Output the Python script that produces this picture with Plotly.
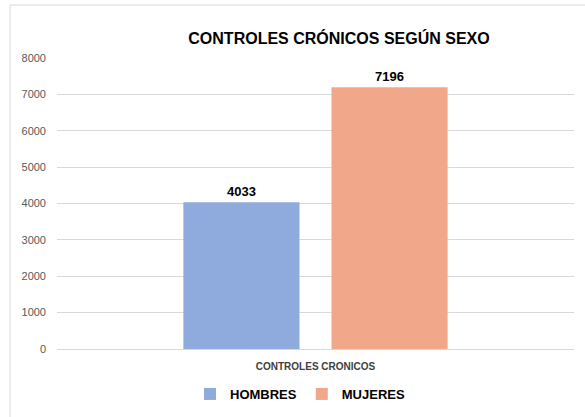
import plotly.graph_objects as go

categories = ["CONTROLES CRONICOS"]
series_names = ["HOMBRES", "MUJERES"]
hombres = [4033]
mujeres = [7196]
y_ticks = [0, 1000, 2000, 3000, 4000, 5000, 6000, 7000, 8000]

colors = {"HOMBRES": "#8FAADC", "MUJERES": "#F1A88A"}
values = {"HOMBRES": hombres, "MUJERES": mujeres}

fig = go.Figure()
for name in series_names:
    fig.add_trace(go.Bar(
        x=categories, y=values[name], name="<b>" + name + "</b>",
        marker=dict(color=colors[name], line=dict(width=0)),
        text=[str(v) for v in values[name]], textposition="outside",
        textfont=dict(family="Liberation Sans", size=13, color="#000000"),
        texttemplate="<b>%{text}</b>", cliponaxis=False,
    ))

W, H = 585, 417
ml, mr, mt, mb = 57, 11, 58, 68
pw, ph = W - ml - mr, H - mt - mb

def px_to_paper(px, py):
    return (px - ml) / pw, (H - mb - py) / ph

x0, y0 = px_to_paper(10, 5)
x1, y1 = px_to_paper(600, 430)

fig.update_layout(
    width=W, height=H,
    margin=dict(l=ml, r=mr, t=mt, b=mb, autoexpand=False),
    paper_bgcolor="white", plot_bgcolor="white",
    barmode="group", bargap=0.427, bargroupgap=0.216,
    title=dict(text="<b>CONTROLES CRÓNICOS SEGÚN SEXO</b>", x=339 / W,
               xanchor="center", xref="container", y=1 - 38 / H, yanchor="middle", yref="container",
               font=dict(family="Liberation Sans", size=16, color="#000000")),
    font=dict(family="Liberation Sans"),
    showlegend=True,
    legend=dict(orientation="h", x=300 / W, xanchor="center", xref="container",
                y=1 - 394 / H, yref="container",
                yanchor="middle", font=dict(size=13, color="#000000"),
                itemwidth=30, traceorder="normal"),
    yaxis=dict(range=[0, 8000], tickvals=y_ticks, showgrid=True, gridcolor="#D9D9D9",
               gridwidth=1, zeroline=False, showline=False, automargin=False,
               tickfont=dict(size=11, color="#595959"), ticks="", ticklen=0,
               ticklabelstandoff=10),
    xaxis=dict(showline=True, linecolor="#D9D9D9", linewidth=1, ticks="", automargin=False,
               tickfont=dict(size=10, color="#404040"), tickprefix="<b>", ticksuffix="</b>",
               ticklabelstandoff=8),
    shapes=[
        dict(type="line", xref="paper", yref="paper", x0=x0, y0=y0, x1=x1, y1=y0,
             line=dict(color="#D9D9D9", width=1)),
        dict(type="line", xref="paper", yref="paper", x0=x0, y0=y0, x1=x0, y1=y1,
             line=dict(color="#D9D9D9", width=1)),
    ],
)

fig.write_html("out.html", post_script="document.body.style.margin='0px';",
               config={"displayModeBar": False})
